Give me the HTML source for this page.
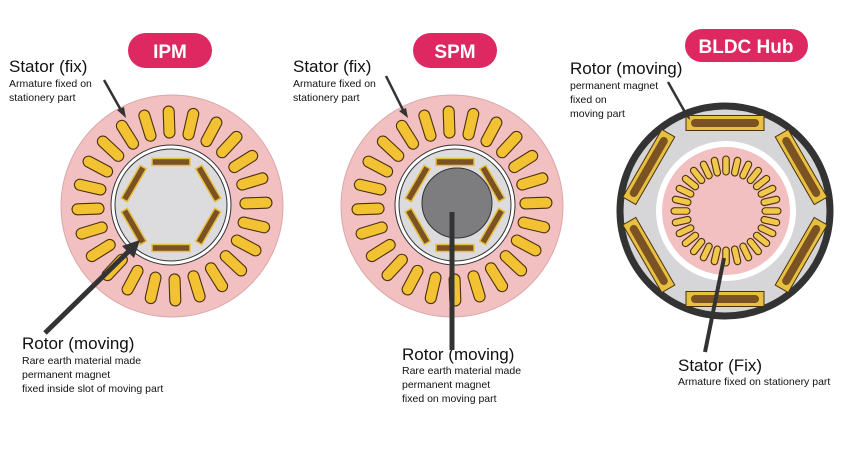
<!DOCTYPE html>
<html><head><meta charset="utf-8"><style>
html,body{margin:0;padding:0;background:#fff;width:860px;height:462px;overflow:hidden}
svg{display:block}
text{font-family:"Liberation Sans",sans-serif;fill:#111}
.h{font-size:17px}
.s{font-size:10.5px}
.p{font-size:19px;font-weight:bold;fill:#fff}
</style></head><body>
<svg id="g" width="860" height="462" viewBox="0 0 860 462" xmlns="http://www.w3.org/2000/svg">
<rect width="860" height="462" fill="#fff"/>
<!-- IPM -->
<circle cx="172" cy="206" r="111" fill="#f2c0c0" stroke="#d8a8a8" stroke-width="1"/>
<g id="ipmslots"></g>
<circle cx="171" cy="205" r="60" fill="#fff" stroke="#333" stroke-width="1"/>
<circle cx="171" cy="205" r="56" fill="#dcdcde" stroke="#333" stroke-width="1"/>
<g id="ipmmag"></g>
<!-- SPM -->
<circle cx="452" cy="206" r="111" fill="#f2c0c0" stroke="#d8a8a8" stroke-width="1"/>
<g id="spmslots"></g>
<circle cx="455" cy="205" r="60" fill="#fff" stroke="#333" stroke-width="1"/>
<circle cx="455" cy="205" r="56" fill="#dcdcde" stroke="#333" stroke-width="1"/>
<g id="spmmag"></g>
<circle cx="457" cy="203" r="35" fill="#7d7d80" stroke="#333" stroke-width="1"/>
<!-- BLDC -->
<circle cx="725" cy="211" r="105" fill="#d6d6d8" stroke="#333" stroke-width="7"/>
<g id="bmag"></g>
<circle cx="726" cy="211" r="70" fill="#fff"/>
<circle cx="726" cy="211" r="64" fill="#f2c0c0"/>
<g id="bslots"></g>
<!-- pills -->
<rect x="128" y="33" width="84" height="35" rx="17.5" fill="#dd2862"/>
<text x="170" y="58" text-anchor="middle" class="p">IPM</text>
<rect x="413" y="33" width="84" height="35" rx="17.5" fill="#dd2862"/>
<text x="455" y="58" text-anchor="middle" class="p">SPM</text>
<rect x="685" y="29" width="123" height="33" rx="16.5" fill="#dd2862"/>
<text x="746" y="53" text-anchor="middle" class="p">BLDC Hub</text>
<!-- labels -->
<text x="9" y="72" class="h">Stator (fix)</text>
<text x="9" y="87" class="s">Armature fixed on</text>
<text x="9" y="101" class="s">stationery part</text>
<text x="293" y="72" class="h">Stator (fix)</text>
<text x="293" y="87" class="s">Armature fixed on</text>
<text x="293" y="101" class="s">stationery part</text>
<text x="570" y="74" class="h">Rotor (moving)</text>
<text x="570" y="89" class="s">permanent magnet</text>
<text x="570" y="103" class="s">fixed on</text>
<text x="570" y="117" class="s">moving part</text>
<text x="22" y="349" class="h">Rotor (moving)</text>
<text x="22" y="364" class="s">Rare earth material made</text>
<text x="22" y="378" class="s">permanent magnet</text>
<text x="22" y="392" class="s">fixed inside slot of moving part</text>
<text x="402" y="360" class="h">Rotor (moving)</text>
<text x="402" y="374" class="s">Rare earth material made</text>
<text x="402" y="388" class="s">permanent magnet</text>
<text x="402" y="402" class="s">fixed on moving  part</text>
<text x="678" y="371" class="h">Stator (Fix)</text>
<text x="678" y="385" class="s">Armature fixed on stationery part</text>
<!-- arrows -->
<line x1="104" y1="80" x2="122" y2="112" stroke="#333" stroke-width="2.5"/>
<polygon points="126,118 117,110 124,107" fill="#333"/>
<line x1="386" y1="76" x2="404" y2="112" stroke="#333" stroke-width="2.5"/>
<polygon points="408,118 399,111 406,108" fill="#333"/>
<line x1="668" y1="82" x2="686" y2="114" stroke="#333" stroke-width="2.5"/>
<polygon points="690,120 681,112 688,109" fill="#333"/>
<line x1="45" y1="333" x2="130" y2="250" stroke="#333" stroke-width="5"/>
<polygon points="140,240 122,246 134,258" fill="#333"/>
<line x1="452" y1="212" x2="452" y2="350" stroke="#333" stroke-width="5"/>
<line x1="724" y1="258" x2="705" y2="352" stroke="#333" stroke-width="4"/>
</svg>
<script>
var NS="http://www.w3.org/2000/svg";
function el(p,t,a){var e=document.createElementNS(NS,t);for(var k in a)e.setAttribute(k,a[k]);document.getElementById(p).appendChild(e);return e;}
function slots(id,cx,cy,n,r1,r2,w,off,fill){
 for(var i=0;i<n;i++){var a=off+i*360/n;
  el(id,"rect",{x:cx+r1,y:cy-w/2,width:r2-r1,height:w,rx:w/2,fill:fill,stroke:"#4a3010","stroke-width":1.1,transform:"rotate("+a+" "+cx+" "+cy+")"});}
}
function mags(id,cx,cy,r,len,w,inner){
 for(var i=0;i<6;i++){var a=-90+i*60;
  var g=el(id,"g",{transform:"rotate("+(a+90)+" "+cx+" "+cy+")"});
  var r0=document.createElementNS(NS,"rect");
  r0.setAttribute("x",cx-len/2);r0.setAttribute("y",cy-r-w/2);r0.setAttribute("width",len);r0.setAttribute("height",w);
  r0.setAttribute("fill",inner?"#e8c040":"#7a5224");r0.setAttribute("stroke","#4a3010");r0.setAttribute("stroke-width","1");
  g.appendChild(r0);
  if(inner){var r1=document.createElementNS(NS,"rect");
   r1.setAttribute("x",cx-len/2+5);r1.setAttribute("y",cy-r-w/2+3.5);r1.setAttribute("width",len-10);r1.setAttribute("height",w-7);r1.setAttribute("rx",(w-7)/2);
   r1.setAttribute("fill","#7a5224");g.appendChild(r1);}
  else{r0.setAttribute("stroke","#e8c040");r0.setAttribute("stroke-width","1.5");}
 }
}
slots("ipmslots",172,206,24,68,100,11,-92,"#f2c232");
mags("ipmmag",171,205,43,38,7,false);
slots("spmslots",452,206,24,68,100,11,-92,"#f2c232");
mags("spmmag",455,205,43,38,7,false);
mags("bmag",725,211,88,78,15,true);
slots("bslots",726,211,28,36,55,6.5,-90,"#f2c84a");
</script>
</body></html>
